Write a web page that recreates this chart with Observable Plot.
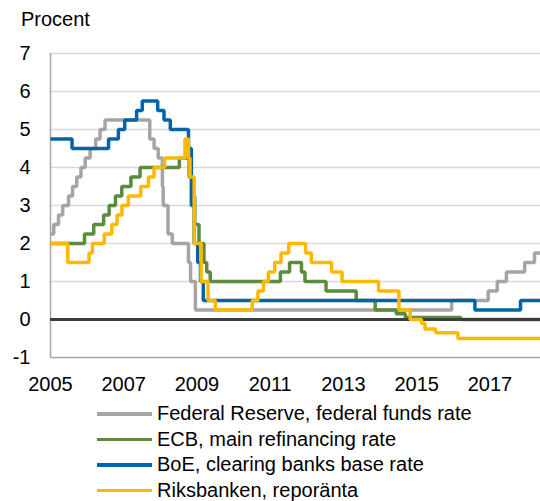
<!DOCTYPE html>
<html>
<head>
<meta charset="utf-8">
<script src="https://cdn.jsdelivr.net/npm/d3@7"></script>
<script src="https://cdn.jsdelivr.net/npm/@observablehq/plot@0.6"></script>
<style>
  html, body { margin: 0; padding: 0; background: #fff; }
  #wrap { position: relative; width: 540px; height: 501px; overflow: hidden; font-family: "Liberation Sans", Arial, sans-serif; color: #000; }
  #title { position: absolute; left: 21px; top: 7px; font-size: 20px; line-height: 24px; }
  #chart { position: absolute; left: 0; top: 0; }
  #legend { position: absolute; left: 97px; top: 401px; font-size: 20px; }
  .row { position: relative; height: 25.5px; line-height: 25.5px; white-space: nowrap; }
  .sw { position: absolute; left: 0; top: 11px; width: 55px; height: 3.5px; }
  .lab { position: absolute; left: 60px; top: 0; }
</style>
</head>
<body>
<div id="wrap">
  <div id="chart"></div>
  <div id="title">Procent</div>
  <div id="legend"></div>
</div>
<script>
// ---- Data (policy rates, step change dates) ----
const seriesNames = ["Federal Reserve, federal funds rate", "ECB, main refinancing rate", "BoE, clearing banks base rate", "Riksbanken, reporänta"];
const seriesColors = ["#a5a5a5", "#5a8c3e", "#0065a8", "#fdb900"];

const fedDates = ["2005-01-01","2005-02-02","2005-03-22","2005-05-03","2005-06-30","2005-08-09","2005-09-20","2005-11-01","2005-12-13","2006-01-31","2006-03-28","2006-05-10","2006-06-29","2007-09-18","2007-10-31","2007-12-11","2008-01-22","2008-01-30","2008-03-18","2008-04-30","2008-10-08","2008-10-29","2008-12-16","2015-12-16","2016-12-14","2017-03-15","2017-06-14","2017-12-13","2018-03-21"];
const fedRates = [2.25,2.5,2.75,3.0,3.25,3.5,3.75,4.0,4.25,4.5,4.75,5.0,5.25,4.75,4.5,4.25,3.5,3.0,2.25,2.0,1.5,1.0,0.25,0.5,0.75,1.0,1.25,1.5,1.75];

const ecbDates = ["2005-01-01","2005-12-06","2006-03-08","2006-06-15","2006-08-09","2006-10-11","2006-12-13","2007-03-14","2007-06-13","2008-07-09","2008-10-15","2008-11-12","2008-12-10","2009-01-21","2009-03-11","2009-04-08","2009-05-13","2011-04-13","2011-07-13","2011-11-09","2011-12-14","2012-07-11","2013-05-08","2013-11-13","2014-06-11","2014-09-10","2016-03-16"];
const ecbRates = [2.0,2.25,2.5,2.75,3.0,3.25,3.5,3.75,4.0,4.25,3.75,3.25,2.5,2.0,1.5,1.25,1.0,1.25,1.5,1.25,1.0,0.75,0.5,0.25,0.15,0.05,0.0];

const boeDates = ["2005-01-01","2005-08-04","2006-08-03","2006-11-09","2007-01-11","2007-05-10","2007-07-05","2007-12-06","2008-02-07","2008-04-10","2008-10-08","2008-11-06","2008-12-04","2009-01-08","2009-02-05","2009-03-05","2016-08-04","2017-11-02"];
const boeRates = [4.75,4.5,4.75,5.0,5.25,5.5,5.75,5.5,5.25,5.0,4.5,3.0,2.0,1.5,1.0,0.5,0.25,0.5];

const rbDates = ["2005-01-01","2005-06-22","2006-01-20","2006-02-23","2006-06-21","2006-09-05","2006-10-27","2006-12-15","2007-02-16","2007-06-20","2007-09-05","2007-10-31","2008-02-13","2008-09-03","2008-10-08","2008-10-23","2008-12-04","2009-02-11","2009-04-21","2009-07-02","2010-07-06","2010-09-01","2010-10-26","2010-12-14","2011-02-15","2011-04-19","2011-07-05","2011-12-20","2012-02-15","2012-09-05","2012-12-18","2013-12-17","2014-07-08","2014-10-28","2015-02-18","2015-03-25","2015-07-08","2016-02-17"];
const rbRates = [2.0,1.5,1.75,2.0,2.25,2.5,2.75,3.0,3.25,3.5,3.75,4.0,4.25,4.75,4.25,3.75,2.0,1.0,0.5,0.25,0.5,0.75,1.0,1.25,1.5,1.75,2.0,1.75,1.5,1.25,1.0,0.75,0.25,0.0,-0.1,-0.25,-0.35,-0.5];

const xStart = "2005-01-01";
const xEnd = "2018-05-20";
const xTickYears = [2005, 2007, 2009, 2011, 2013, 2015, 2017];
const yTicks = [-1, 0, 1, 2, 3, 4, 5, 6, 7];
const gridValues = [1, 2, 3, 4, 5, 6, 7];

// ---- Build tables ----
function build(dates, rates) {
  const rows = dates.map((d, i) => ({date: new Date(d), rate: rates[i]}));
  rows.push({date: new Date(xEnd), rate: rates[rates.length - 1]});
  return rows;
}
const tables = [build(fedDates, fedRates), build(ecbDates, ecbRates), build(boeDates, boeRates), build(rbDates, rbRates)];
const lw = 3.5;

const lineMark = (i) => Plot.line(tables[i], {x: "date", y: "rate", curve: "step-after", stroke: seriesColors[i], strokeWidth: lw, strokeLinejoin: "miter", strokeLinecap: "butt"});

const chart = Plot.plot({
  width: 540,
  height: 390,
  marginLeft: 50,
  marginRight: 0,
  marginTop: 53,
  marginBottom: 33,
  style: {fontFamily: "'Liberation Sans', Arial, sans-serif", fontSize: "20px", color: "#000", background: "transparent", overflow: "visible"},
  x: {type: "utc", domain: [new Date(xStart), new Date(xEnd)], ticks: xTickYears.map(y => new Date(Date.UTC(y, 0, 1))), tickFormat: d => String(d.getUTCFullYear()), tickSize: 0, tickPadding: 19, label: null},
  y: {domain: [-1, 7], ticks: yTicks, tickFormat: d => String(d), tickSize: 0, tickPadding: 20, label: null},
  marks: [
    Plot.ruleY(gridValues, {stroke: "#d9d9d9", strokeWidth: 1.5}),
    Plot.ruleY([-1], {stroke: "#a6a6a6", strokeWidth: 1.5}),
    Plot.ruleX([new Date(xStart)], {y1: -1, y2: 7, stroke: "#a6a6a6", strokeWidth: 1.5}),
    lineMark(0),
    lineMark(1),
    Plot.ruleY([0], {stroke: "#3d3d3d", strokeWidth: 3}),
    lineMark(2),
    lineMark(3)
  ]
});
document.getElementById("chart").appendChild(chart);

// ---- Legend ----
const legend = document.getElementById("legend");
seriesNames.forEach((name, i) => {
  const row = document.createElement("div");
  row.className = "row";
  const sw = document.createElement("div");
  sw.className = "sw";
  sw.style.background = seriesColors[i];
  const lab = document.createElement("div");
  lab.className = "lab";
  lab.textContent = name;
  row.appendChild(sw);
  row.appendChild(lab);
  legend.appendChild(row);
});
</script>
</body>
</html>
